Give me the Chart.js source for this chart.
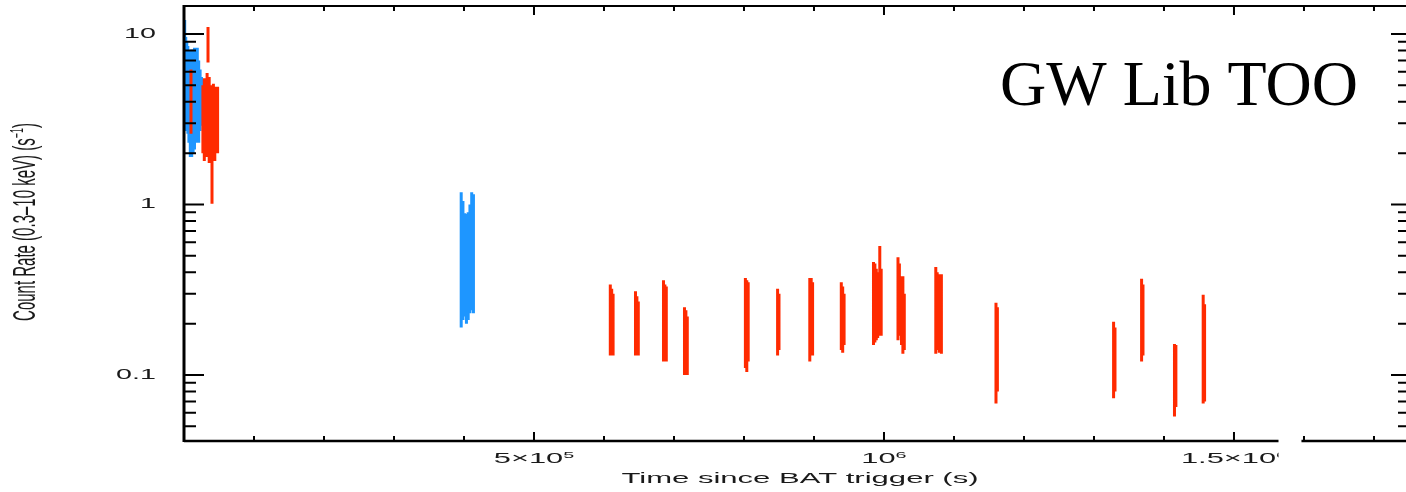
<!DOCTYPE html>
<html>
<head>
<meta charset="utf-8">
<title>Count rate light curve</title>
<script src="https://cdn.jsdelivr.net/npm/chart.js@4.4.0/dist/chart.umd.min.js"></script>
<style>
  html, body { margin: 0; padding: 0; background: #fff; overflow: hidden; }
  #wrap { position: relative; width: 1412px; height: 492px; }
</style>
</head>
<body>
<div id="wrap"><canvas id="lc"></canvas></div>
<script>
// WT mode bins (blue): time since trigger (s) and 1-sigma count rate range
const blueTime = [1000, 2500, 4000, 5500, 7000, 9000, 11000, 13000, 15000, 17000, 19000, 21000, 23000, 25000,
  396000, 398500, 401000, 403500, 406000, 408500, 411000, 413500];
const blueLow = [3.0, 2.7, 2.8, 2.6, 2.3, 1.9, 1.9, 2.0, 2.1, 2.3, 2.5, 2.3, 2.7, 2.9,
  0.19, 0.21, 0.22, 0.20, 0.21, 0.23, 0.24, 0.23];
const blueHigh = [12.1, 9.6, 9.0, 8.5, 8.0, 7.8, 8.1, 7.6, 8.3, 8.0, 8.3, 7.0, 6.2, 5.6,
  1.18, 1.05, 0.89, 0.88, 0.90, 1.0, 1.18, 1.15];

// PC mode bins (red)
const redTime = [10000, 27000, 29000, 31000, 33000, 34300, 36000, 38000, 40000, 42000, 44000, 46000, 48000,
  609000, 611000, 613000,
  645000, 647000, 649000,
  685000, 687000, 689000,
  715000, 717000, 719000,
  802000, 804000, 806000,
  848000, 850000,
  894000, 896000, 898000,
  939000, 941000, 943000,
  985000, 987000, 989000, 991000, 994000, 996000,
  1020000, 1022000, 1025000, 1027000, 1029000,
  1074000, 1076000, 1079000, 1082000,
  1160000, 1162000,
  1328000, 1330000,
  1368000, 1370000,
  1415000, 1417000,
  1456000, 1458000];
const redLow = [2.6, 2.0, 1.8, 2.1, 1.9, 6.8, 1.75, 2.2, 1.01, 2.0, 1.8, 2.1, 2.0,
  0.13, 0.14, 0.13,
  0.13, 0.14, 0.13,
  0.12, 0.13, 0.12,
  0.10, 0.11, 0.10,
  0.11, 0.104, 0.12,
  0.13, 0.14,
  0.12, 0.13, 0.13,
  0.14, 0.135, 0.15,
  0.15, 0.155, 0.16, 0.165, 0.17, 0.17,
  0.16, 0.17, 0.15, 0.133, 0.14,
  0.133, 0.14, 0.135, 0.133,
  0.068, 0.08,
  0.073, 0.08,
  0.12, 0.13,
  0.057, 0.065,
  0.068, 0.07];
const redHigh = [6.2, 5.0, 5.5, 5.3, 5.9, 11.0, 5.6, 5.0, 4.3, 5.1, 4.9, 4.6, 4.9,
  0.34, 0.32, 0.30,
  0.31, 0.29, 0.27,
  0.36, 0.34, 0.33,
  0.25, 0.24, 0.22,
  0.37, 0.36, 0.35,
  0.32, 0.30,
  0.37, 0.37, 0.35,
  0.35, 0.33, 0.30,
  0.46, 0.45, 0.42, 0.40, 0.57, 0.42,
  0.49, 0.45, 0.38, 0.38, 0.30,
  0.43, 0.40, 0.39, 0.39,
  0.265, 0.25,
  0.205, 0.19,
  0.367, 0.34,
  0.152, 0.15,
  0.296, 0.26];

// axis labels
const yTickValues = [0.1, 1, 10];
const yTickLabels = ['0.1', '1', '10'];
const xTickValues = [5e5, 1e6, 1.5e6];
const xTickLabels = ['5×10^5', '10^6', '1.5×10^6'];
const xBreak = [1.5636e6, 1.5964e6]; // gap in the lower time axis

const BLUE = '#1e96ff';
const RED = '#ff2a00';
const SANS = '"Liberation Sans", Arial, sans-serif';

// each bin becomes a vertical segment low -> high, null splits the line
function errorBars(time, low, high) {
  const pts = [];
  time.forEach((t, i) => {
    pts.push({ x: t, y: low[i] }, { x: t, y: high[i] }, { x: t, y: null });
  });
  return pts;
}

// text squeezed/stretched along x, the plot fonts are wide
function wideText(ctx, text, x, y, sx) {
  ctx.save();
  ctx.translate(x, y);
  ctx.scale(sx, 1);
  ctx.fillText(text, 0, 0);
  ctx.restore();
}

const framePlugin = {
  id: 'frame',
  afterDatasetsDraw(chart) {
    const { ctx, chartArea: a, scales: { x, y } } = chart;
    ctx.save();
    ctx.strokeStyle = '#000';
    ctx.fillStyle = '#1a1a1a';

    const bx0 = x.getPixelForValue(xBreak[0]);
    const bx1 = x.getPixelForValue(xBreak[1]);

    // box
    ctx.lineWidth = 2;
    ctx.beginPath();
    ctx.moveTo(a.left, a.top); ctx.lineTo(a.right, a.top);
    ctx.stroke();
    ctx.lineWidth = 2.5;
    ctx.beginPath();
    ctx.moveTo(a.left, a.bottom); ctx.lineTo(bx0, a.bottom);
    ctx.moveTo(bx1, a.bottom); ctx.lineTo(a.right, a.bottom);
    ctx.stroke();
    ctx.lineWidth = 3;
    ctx.beginPath();
    ctx.moveTo(a.left, a.top - 1); ctx.lineTo(a.left, a.bottom + 1);
    ctx.moveTo(a.right, a.top); ctx.lineTo(a.right, a.bottom);
    ctx.stroke();

    // time ticks, every 1e5 s
    ctx.lineWidth = 2;
    ctx.beginPath();
    for (let k = 1; k * 1e5 < x.max; k++) {
      const px = x.getPixelForValue(k * 1e5);
      const len = k % 5 === 0 ? 9 : 5;
      if (px < bx0 || px > bx1) {
        ctx.moveTo(px, a.bottom); ctx.lineTo(px, a.bottom - len);
      }
      ctx.moveTo(px, a.top); ctx.lineTo(px, a.top + len);
    }
    ctx.stroke();

    // log ticks
    ctx.beginPath();
    for (const d of [0.01, 0.1, 1, 10]) {
      for (let m = 1; m <= 9; m++) {
        const v = m * d;
        if (v < y.min || v > y.max) continue;
        const py = y.getPixelForValue(v);
        const major = m === 1;
        ctx.moveTo(a.left, py); ctx.lineTo(a.left + (major ? 20 : 12), py);
        ctx.moveTo(a.right, py); ctx.lineTo(a.right - (major ? 17 : 10), py);
      }
    }
    ctx.stroke();

    // count rate labels
    ctx.font = '14px ' + SANS;
    ctx.textAlign = 'right';
    ctx.textBaseline = 'middle';
    yTickValues.forEach((v, i) => {
      wideText(ctx, yTickLabels[i], 156, y.getPixelForValue(v), 2.05);
    });

    // time labels with exponents, cut at the axis gap
    ctx.save();
    ctx.beginPath();
    ctx.rect(0, a.bottom + 2, bx0, 60);
    ctx.rect(bx1, a.bottom + 2, chart.width - bx1, 60);
    ctx.clip();
    ctx.textAlign = 'left';
    ctx.textBaseline = 'alphabetic';
    const sx = 2.2;
    xTickValues.forEach((v, i) => {
      const [base, exp] = xTickLabels[i].split('^');
      ctx.font = '14px ' + SANS;
      const wb = ctx.measureText(base).width;
      ctx.font = '9px ' + SANS;
      const we = ctx.measureText(exp).width;
      const start = x.getPixelForValue(v) - (wb + we) * sx / 2;
      ctx.font = '14px ' + SANS;
      wideText(ctx, base, start, 463, sx);
      ctx.font = '9px ' + SANS;
      wideText(ctx, exp, start + wb * sx, 458, sx);
    });
    ctx.restore();

    // axis titles
    ctx.font = '15px ' + SANS;
    ctx.textAlign = 'center';
    ctx.textBaseline = 'alphabetic';
    wideText(ctx, 'Time since BAT trigger (s)', (a.left + a.right) / 2 + 4, 483, 2.07);

    ctx.save();
    ctx.translate(35, 222);
    ctx.scale(2.07, 1);
    ctx.rotate(-Math.PI / 2);
    const head = 'Count Rate (0.3\u201310 keV) (s';
    const sup = '\u22121';
    const tail = ')';
    ctx.font = '15px ' + SANS;
    const wh = ctx.measureText(head).width;
    const wt = ctx.measureText(tail).width;
    ctx.font = '9px ' + SANS;
    const ws = ctx.measureText(sup).width;
    let cx = -(wh + ws + wt) / 2;
    ctx.textAlign = 'left';
    ctx.font = '15px ' + SANS;
    ctx.fillText(head, cx, 0);
    ctx.font = '9px ' + SANS;
    ctx.fillText(sup, cx + wh, -6);
    ctx.font = '15px ' + SANS;
    ctx.fillText(tail, cx + wh + ws, 0);
    ctx.restore();

    // observation tag
    ctx.fillStyle = '#000';
    ctx.font = '64px "Liberation Serif", "Times New Roman", serif';
    ctx.textAlign = 'left';
    ctx.fillText('GW Lib TOO', 1000, 105);

    ctx.restore();
  }
};

new Chart(document.getElementById('lc').getContext('2d'), {
  type: 'scatter',
  data: {
    datasets: [
      {
        label: 'PC',
        data: errorBars(redTime, redLow, redHigh),
        borderColor: RED,
        borderWidth: 3,
        borderCapStyle: 'butt',
        showLine: true,
        spanGaps: false,
        pointRadius: 0,
        order: 0
      },
      {
        label: 'WT',
        data: errorBars(blueTime, blueLow, blueHigh),
        borderColor: BLUE,
        borderWidth: 3,
        borderCapStyle: 'butt',
        showLine: true,
        spanGaps: false,
        pointRadius: 0,
        order: 1
      }
    ]
  },
  options: {
    animation: false,
    responsive: true,
    maintainAspectRatio: false,
    layout: { padding: { left: 184, top: 6, right: 4, bottom: 51 } },
    scales: {
      x: { type: 'linear', min: 0, max: 1.7486e6, display: false },
      y: { type: 'logarithmic', min: 0.041, max: 14.6, display: false }
    },
    plugins: {
      legend: { display: false },
      tooltip: { enabled: false }
    }
  },
  plugins: [framePlugin]
});
</script>
</body>
</html>
